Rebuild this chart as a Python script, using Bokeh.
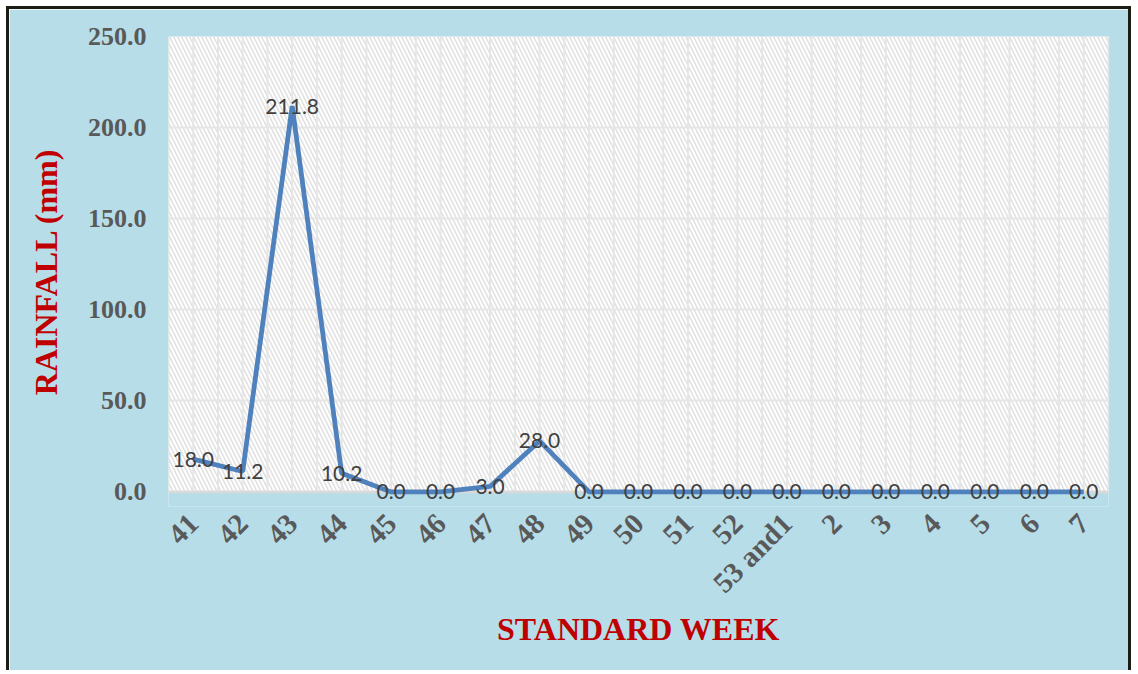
import math
from bokeh.plotting import figure
from bokeh.models import (Range1d, FixedTicker, PrintfTickFormatter, ColumnDataSource,
                          LabelSet, BoxAnnotation, Span)
from bokeh.core.properties import value
from bokeh.embed import file_html
from bokeh.resources import INLINE

# ---- data ----
weeks = ["41", "42", "43", "44", "45", "46", "47", "48", "49", "50", "51", "52",
         "53 and1", "2", "3", "4", "5", "6", "7"]
rainfall = [18.0, 11.2, 211.8, 10.2, 0.0, 0.0, 3.0, 28.0, 0.0, 0.0, 0.0, 0.0,
            0.0, 0.0, 0.0, 0.0, 0.0, 0.0, 0.0]
y_ticks = [0, 50, 100, 150, 200, 250]

n = len(weeks)
xs = [i + 0.5 for i in range(n)]
src = ColumnDataSource(dict(x=xs, y=rainfall, lbl=["%.1f" % v for v in rainfall]))

BG = "#b7dde8"
GRID = "#e6e6e6"
p = figure(width=1125, height=664, output_backend="svg", toolbar_location=None,
           x_range=Range1d(0, n), y_range=Range1d(-8, 250),
           min_border_left=159, min_border_right=26, min_border_top=27, min_border_bottom=167)
p.styles = {"margin-left": "6px", "margin-top": "6px",
            "border-left": "3px solid #1c1c14", "border-top": "3px solid #1c1c14",
            "border-right": "3px solid #1c1c14"}
p.border_fill_color = BG
p.background_fill_color = BG
p.outline_line_color = None

# hatched plot area (from 0 up)
p.add_layout(BoxAnnotation(bottom=0, fill_color="white", fill_alpha=1.0, line_alpha=0,
                           hatch_pattern="left_diagonal_line", hatch_color="#e0e0e0",
                           hatch_scale=8, hatch_weight=1.5, level="image"))

# grids
p.xgrid.visible = False
p.ygrid.ticker = FixedTicker(ticks=y_ticks)
p.ygrid.grid_line_color = GRID
p.ygrid.grid_line_width = 2
gx = [i * 0.5 for i in range(2 * n + 1)]
p.segment(x0=gx, y0=[0] * len(gx), x1=gx, y1=[250] * len(gx),
          line_color=GRID, line_width=2, level="underlay")
p.add_layout(Span(location=0, dimension="width", line_color="#d9d9d9", line_width=2.5,
                  level="underlay"))

p.line("x", "y", source=src, line_color="#4f81bd", line_width=4.8)

p.add_layout(LabelSet(x="x", y="y", text="lbl", source=src, text_align="center",
                      text_baseline="middle", text_font=value("Lato"),
                      text_font_size=value("21px"), text_color="#404040"))

# y axis
p.yaxis.ticker = FixedTicker(ticks=y_ticks)
p.yaxis.formatter = PrintfTickFormatter(format="%.1f")
p.yaxis.axis_line_color = None
p.yaxis.major_tick_line_color = None
p.yaxis.minor_tick_line_color = None
p.yaxis.major_tick_out = 0
p.yaxis.minor_tick_out = 0
p.yaxis.major_label_standoff = 22
p.yaxis.major_label_text_font = "Liberation Serif"
p.yaxis.major_label_text_font_style = "bold"
p.yaxis.major_label_text_font_size = "26px"
p.yaxis.major_label_text_color = "#595959"
p.yaxis.axis_label = "RAINFALL (mm)"
p.yaxis.axis_label_text_font = "Liberation Serif"
p.yaxis.axis_label_text_font_style = "bold"
p.yaxis.axis_label_text_font_size = "32px"
p.yaxis.axis_label_text_color = "#c00000"
p.yaxis.axis_label_standoff = 21

# x axis
p.xaxis.ticker = FixedTicker(ticks=xs)
p.xaxis.major_label_overrides = {x: w for x, w in zip(xs, weeks)}
p.xaxis.major_label_orientation = math.pi / 4
p.xaxis.axis_line_color = None
p.xaxis.major_tick_line_color = None
p.xaxis.minor_tick_line_color = None
p.xaxis.major_tick_out = 0
p.xaxis.minor_tick_out = 0
p.xaxis.major_label_standoff = 12
p.xaxis.major_label_text_font = "Liberation Serif"
p.xaxis.major_label_text_font_style = "bold"
p.xaxis.major_label_text_font_size = "29px"
p.xaxis.major_label_text_color = "#595959"
p.xaxis.axis_label = "STANDARD WEEK"
p.xaxis.axis_label_text_font = "Liberation Serif"
p.xaxis.axis_label_text_font_style = "bold"
p.xaxis.axis_label_text_font_size = "32px"
p.xaxis.axis_label_text_color = "#c00000"
p.xaxis.axis_label_standoff = -2

open("out.html", "w").write(file_html(p, INLINE))
